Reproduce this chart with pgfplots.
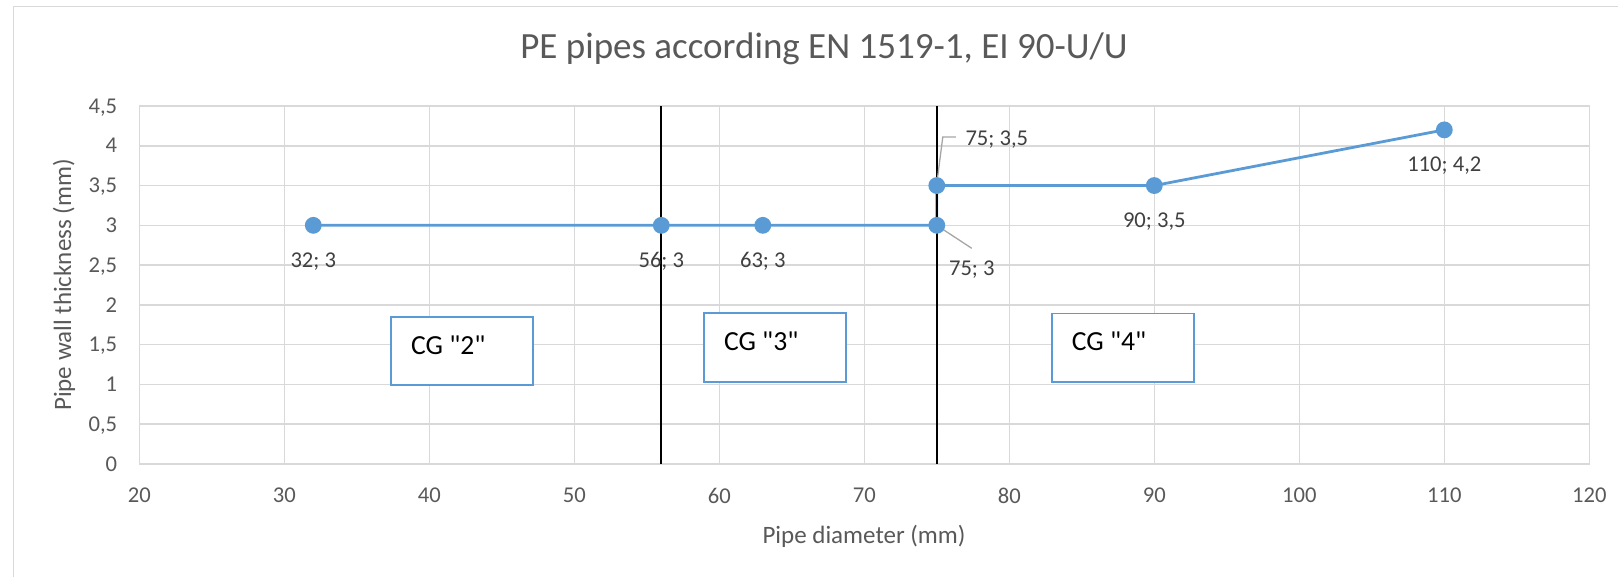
\documentclass[border=0pt]{standalone}
\usepackage{pgfplots}
\pgfplotsset{compat=1.18}
\usepackage{fontspec}
\setmainfont{Carlito}
\newfontfamily\boxfont{Carlito}
\definecolor{serblue}{HTML}{5B9BD5}
\definecolor{gridgray}{HTML}{D9D9D9}
\definecolor{axgray}{HTML}{BFBFBF}
\definecolor{txtgray}{HTML}{595959}
\definecolor{lblgray}{HTML}{404040}
\definecolor{leader}{HTML}{A6A6A6}
\newcommand{\tickfont}{\fontsize{22.6}{27}\selectfont}
\newcommand{\lblfont}{\fontsize{22.6}{27}\selectfont}
\begin{document}
\begin{tikzpicture}
\begin{axis}[
  at={(139.3pt,-464pt)}, anchor=south west,
  scale only axis, width=1450pt, height=358pt,
  xmin=20, xmax=120, ymin=0, ymax=4.5,
  xtick={20,30,...,120},
  ytick={0,0.5,1,1.5,2,2.5,3,3.5,4,4.5},
  major tick length=0pt,
  grid=major,
  grid style={gridgray, line width=1.5pt},
  axis line style={gridgray, line width=1.5pt},
  /pgf/number format/use comma,
  /pgf/number format/assume math mode=true,
  ticklabel style={font=\tickfont, text=txtgray},
  xticklabel style={anchor=north, inner sep=0pt, yshift=-24pt},
  yticklabel style={anchor=base east, inner sep=0pt, xshift=-22pt, yshift=-7.2pt},
  clip=false,
]
\addplot[serblue, line width=2.8pt, mark=*, mark size=7pt, mark options={fill=serblue, draw=serblue}]
  coordinates {(32,3) (56,3) (63,3) (75,3) (75,3.5) (90,3.5) (110,4.2)};
\addplot[black, line width=1.8pt] coordinates {(56,0) (56,4.5)};
\addplot[black, line width=1.8pt] coordinates {(75,0) (75,4.5)};
% data labels
\node[anchor=base, text=lblgray, font=\lblfont, yshift=-41.7pt] at (axis cs:32,3) {32; 3};
\node[anchor=base, text=lblgray, font=\lblfont, yshift=-41.7pt] at (axis cs:56,3) {56; 3};
\node[anchor=base, text=lblgray, font=\lblfont, yshift=-41.7pt] at (axis cs:63,3) {63; 3};
\node[anchor=base, text=lblgray, font=\lblfont, yshift=-41.7pt] at (axis cs:90,3.5) {90; 3,5};
\node[anchor=base, text=lblgray, font=\lblfont, yshift=-41.7pt] at (axis cs:110,4.2) {110; 4,2};
\draw[leader, line width=1.3pt] ([xshift=3pt,yshift=-2pt]axis cs:75,3) -- ([xshift=35pt,yshift=-23pt]axis cs:75,3);
\node[anchor=base, text=lblgray, font=\lblfont, xshift=35pt, yshift=-50.2pt] at (axis cs:75,3) {75; 3};
\draw[leader, line width=1.3pt] ([yshift=2pt]axis cs:75,3.5) -- ([xshift=6pt,yshift=48.6pt]axis cs:75,3.5) -- ([xshift=19pt,yshift=48.6pt]axis cs:75,3.5);
\node[anchor=base, text=lblgray, font=\lblfont, xshift=60pt, yshift=40.4pt] at (axis cs:75,3.5) {75; 3,5};
% category boxes
\draw[serblue, line width=1.5pt, fill=white] (axis cs:37.36,0.993) rectangle (axis cs:47.15,1.848);
\node[anchor=west, inner sep=0pt, font=\boxfont\fontsize{27.6}{33}\selectfont, xshift=20pt, yshift=-28pt] at (axis cs:37.36,1.848) {CG "2"};
\draw[serblue, line width=1.5pt, fill=white] (axis cs:58.94,1.033) rectangle (axis cs:68.74,1.90);
\node[anchor=west, inner sep=0pt, font=\boxfont\fontsize{27.6}{33}\selectfont, xshift=20pt, yshift=-28pt] at (axis cs:58.94,1.90) {CG "3"};
\draw[serblue, line width=1.5pt, fill=white] (axis cs:82.93,1.033) rectangle (axis cs:92.74,1.889);
\node[anchor=west, inner sep=0pt, font=\boxfont\fontsize{27.6}{33}\selectfont, xshift=20pt, yshift=-28pt] at (axis cs:82.93,1.889) {CG "4"};
\end{axis}
% chart area border (left and top only visible)
\draw[gridgray, line width=1.5pt] (13.3pt,-577pt) -- (13.3pt,-6.7pt) -- (1618pt,-6.7pt);
% title and axis titles
\node[anchor=base, text=txtgray, font=\fontsize{37}{44}\selectfont] at (824pt,-58.3pt) {PE pipes according EN 1519-1, EI 90-U/U};
\node[anchor=base, text=txtgray, font=\fontsize{25}{30}\selectfont] at (864pt,-543pt) {Pipe diameter (mm)};
\node[anchor=base, rotate=90, text=txtgray, font=\fontsize{25}{30}\selectfont] at (71pt,-285pt) {Pipe wall thickness (mm)};
\pgfresetboundingbox
\path[use as bounding box] (0pt,0pt) rectangle (1618pt,-577pt);
\end{tikzpicture}
\end{document}
